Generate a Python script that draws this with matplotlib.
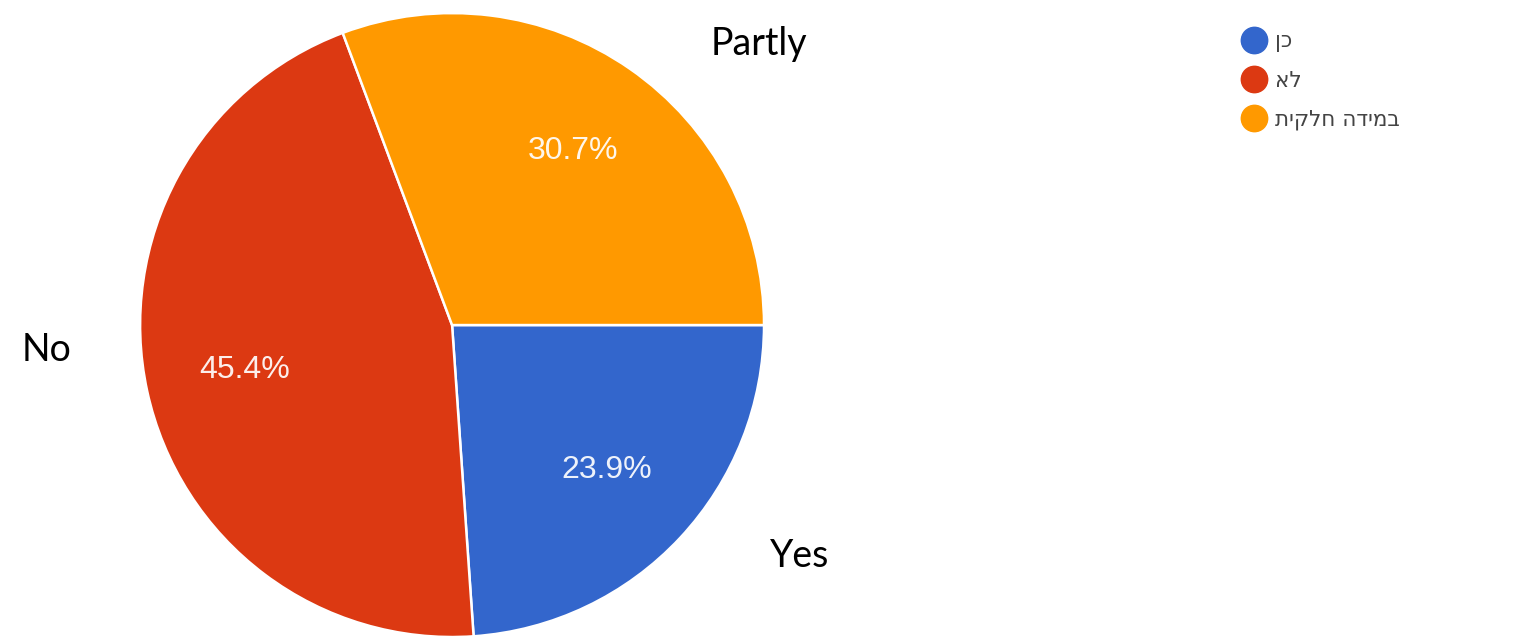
import numpy as np
import matplotlib
matplotlib.use('Agg')
import matplotlib.pyplot as plt
from matplotlib.lines import Line2D

# data
answers = ['Yes', 'No', 'Partly']
legend_labels = ['כן', 'לא', 'במידה חלקית']
shares = [23.9, 45.4, 30.7]
colors = ['#3366cc', '#dc3912', '#ff9900']

fig = plt.figure(figsize=(15.17, 6.36), dpi=100)
ax = fig.add_axes([0.0923, -0.0016, 0.4114, 0.981])

wedges, texts, autotexts = ax.pie(
    shares, colors=colors, startangle=0, counterclock=False,
    autopct='%1.1f%%', pctdistance=0.68, radius=1,
    wedgeprops=dict(edgecolor='white', linewidth=1.8),
    textprops=dict(color='white', fontsize=23, family='Liberation Sans'))
for t in autotexts:
    t.set_alpha(0.92)
ax.set_xlim(-1, 1)
ax.set_ylim(-1, 1)
ax.set_aspect('equal')
ax.axis('off')

# outer English labels
outer_pos = {'Yes': (1.115, -0.74), 'No': (-1.30, -0.08), 'Partly': (0.985, 0.90)}
for name in answers:
    x, y = outer_pos[name]
    ax.text(x, y, name, ha='center', va='center', fontsize=27,
            family='Lato', color='black', clip_on=False)

# legend (hebrew reversed for left-to-right rendering)
handles = [Line2D([], [], marker='o', ls='', color=c, markersize=19) for c in colors]
leg = fig.legend(handles, [s[::-1] for s in legend_labels],
                 loc='upper left', bbox_to_anchor=(0.807, 0.981),
                 frameon=False, handletextpad=0.45,
                 labelspacing=0.85, handlelength=1.0,
                 prop=dict(family='DejaVu Sans', size=15.5))
for t in leg.get_texts():
    t.set_color('#444444')

fig.savefig('out.png', dpi=100)
